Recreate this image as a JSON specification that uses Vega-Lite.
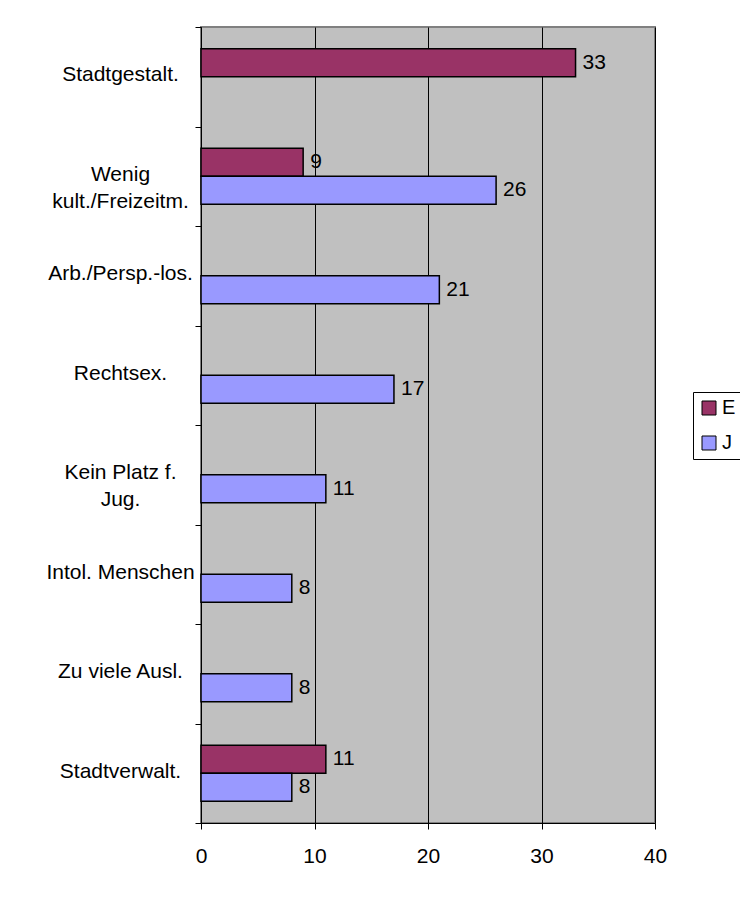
{
  "$schema": "https://vega.github.io/schema/vega-lite/v6.json",
  "autosize": {"type": "none"},
  "width": 454,
  "height": 796,
  "padding": {"left": 201, "top": 27, "right": 85, "bottom": 74},
  "background": "white",
  "config": {
    "font": "Liberation Sans",
    "view": {"fill": "#C0C0C0", "stroke": "#808080", "strokeWidth": 2},
    "axis": {"labelFont": "Liberation Sans", "labelFontSize": 21, "labelColor": "black", "domainColor": "black", "tickColor": "black", "domainWidth": 1, "tickWidth": 1}
  },
  "data": {
    "values": [
      {"cat": "Stadtgestalt.", "series": "E", "value": 33},
      {"cat": "Wenig kult./Freizeitm.", "series": "E", "value": 9},
      {"cat": "Wenig kult./Freizeitm.", "series": "J", "value": 26},
      {"cat": "Arb./Persp.-los.", "series": "J", "value": 21},
      {"cat": "Rechtsex.", "series": "J", "value": 17},
      {"cat": "Kein Platz f. Jug.", "series": "J", "value": 11},
      {"cat": "Intol. Menschen", "series": "J", "value": 8},
      {"cat": "Zu viele Ausl.", "series": "J", "value": 8},
      {"cat": "Stadtverwalt.", "series": "E", "value": 11},
      {"cat": "Stadtverwalt.", "series": "J", "value": 8}
    ]
  },
  "encoding": {
    "y": {
      "field": "cat", "type": "nominal", "sort": null,
      "scale": {"domain": ["Stadtgestalt.", "Wenig kult./Freizeitm.", "Arb./Persp.-los.", "Rechtsex.", "Kein Platz f. Jug.", "Intol. Menschen", "Zu viele Ausl.", "Stadtverwalt."], "paddingInner": 0, "paddingOuter": 0},
      "axis": {
        "title": null, "tickBand": "extent", "tickSize": 6, "labelAlign": "center", "labelPadding": 75, "labelOffset": -2, "labelLineHeight": 27, "grid": false,
        "labelExpr": "datum.label == 'Wenig kult./Freizeitm.' ? ['Wenig', 'kult./Freizeitm.'] : datum.label == 'Kein Platz f. Jug.' ? ['Kein Platz f.', 'Jug.'] : datum.label"
      }
    },
    "yOffset": {"field": "series", "type": "nominal", "scale": {"domain": ["E", "J"], "paddingInner": 0, "paddingOuter": 0.78}},
    "x": {
      "field": "value", "type": "quantitative",
      "scale": {"domain": [0, 40], "nice": false},
      "axis": {"title": null, "values": [0, 10, 20, 30, 40], "grid": true, "gridColor": "black", "gridWidth": 1, "tickSize": 6, "labelPadding": 16, "labelFlush": false}
    }
  },
  "layer": [
    {
      "mark": {"type": "bar", "stroke": "black", "strokeWidth": 1.5, "cornerRadius": 0},
      "encoding": {
        "color": {
          "field": "series", "type": "nominal",
          "scale": {"domain": ["E", "J"], "range": ["#993366", "#9999FF"]},
          "legend": {
            "title": null, "orient": "none", "legendX": 492, "legendY": 365,
            "strokeColor": "black", "fillColor": "white", "padding": 6,
            "symbolType": "square", "symbolSize": 196, "symbolStrokeColor": "black", "symbolStrokeWidth": 1, "symbolOpacity": 1,
            "labelFontSize": 20, "labelFont": "Liberation Sans", "labelColor": "black", "rowPadding": 15, "labelOffset": 3
          }
        }
      }
    },
    {
      "mark": {"type": "text", "align": "left", "baseline": "middle", "dx": 7, "fontSize": 21, "font": "Liberation Sans", "color": "black"},
      "encoding": {"text": {"field": "value", "type": "quantitative"}}
    }
  ]
}
